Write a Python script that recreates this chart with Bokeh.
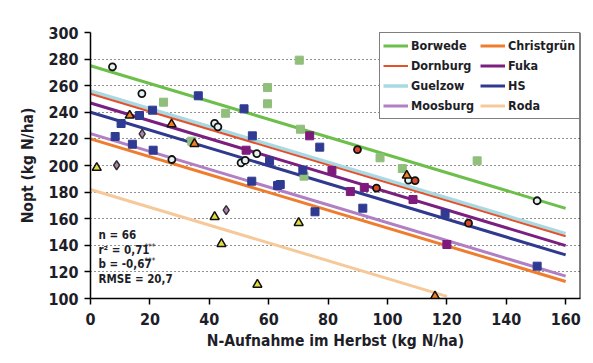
from bokeh.plotting import figure
from bokeh.models import Range1d, FixedTicker, Legend, LegendItem, Label, Span
from bokeh.embed import file_html
from bokeh.resources import INLINE

# ---------------- data ----------------
x_ticks = [0, 20, 40, 60, 80, 100, 120, 140, 160]
y_ticks = [100, 120, 140, 160, 180, 200, 220, 240, 260, 280, 300]

sites = ["Borwede", "Christgrün", "Dornburg", "Fuka", "Guelzow", "HS", "Moosburg", "Roda"]
slope = -0.67
intercepts = [275, 220, 254, 247, 256, 240, 224, 182]
line_x_start = [0, 0, 0, 0, 0, 0, 0, 0]
line_x_end = [160, 160, 160, 160, 160, 160, 160, 120]

borwede_x = [24.6, 34.1, 70.3, 59.6, 59.6, 45.5, 70.7, 71.9, 97.5, 105.0, 130.2]
borwede_y = [247.6, 218.3, 279.2, 258.6, 246.4, 239.3, 227.3, 192.0, 205.8, 197.7, 203.5]

christgruen_x = [13.2, 27.3, 35.0, 106.5, 116.0]
christgruen_y = [237.6, 231.0, 216.3, 192.5, 101.7]

dornburg_x = [89.9, 96.3, 109.3, 127.3]
dornburg_y = [212.0, 183.0, 188.7, 156.6]

fuka_x = [73.8, 52.4, 81.3, 87.5, 92.2, 108.6, 120.0]
fuka_y = [222.3, 211.5, 196.2, 180.4, 183.5, 174.4, 140.6]

guelzow_x = [7.4, 17.3, 41.8, 42.9, 27.4, 56.0, 50.7, 52.1, 107.1, 150.4]
guelzow_y = [274.2, 254.1, 231.6, 229.1, 204.5, 209.0, 202.0, 203.8, 189.0, 173.5]

hs_x = [36.3, 20.9, 16.5, 10.3, 8.3, 14.1, 21.1, 51.7, 54.5, 77.2, 60.3, 54.3, 63.0,
        63.9, 71.5, 75.6, 91.7, 119.4, 150.4]
hs_y = [252.4, 241.6, 237.6, 231.6, 221.8, 216.0, 211.5, 242.6, 222.3, 213.8, 203.2, 188.2,
        185.0, 185.7, 196.5, 165.2, 167.9, 163.7, 124.3]

moosburg_x = [17.4, 8.8, 45.7]
moosburg_y = [223.8, 200.2, 166.4]

roda_x = [2.1, 41.8, 70.1, 44.1, 56.2]
roda_y = [198.3, 161.4, 156.9, 141.1, 110.5]

stats_lines = ["n = 66", "r² = 0,71", "b = -0,67", "RMSE = 20,7"]
stats_stars = ["", "***", "***", ""]
stats_y = [147.4, 136.1, 125.6, 114.3]

# ---------------- styling ----------------
FONT = "DejaVu Sans Condensed"
TXT = "#1e1e28"
line_colors = ["#6cbf4a", "#ee7d2e", "#e2502c", "#7a1f80", "#a9d9e2", "#2f3a8f", "#b07fc4", "#f6c99b"]
line_widths = [3, 3, 2, 3, 3.5, 3, 3, 3]

p = figure(frame_width=490, frame_height=266,
           x_range=Range1d(0, 165), y_range=Range1d(100, 300),
           output_backend="svg", toolbar_location=None,
           min_border_left=90, min_border_top=32, min_border_right=3, min_border_bottom=50)
p.outline_line_color = None
p.background_fill_color = "white"

for ax in (p.xaxis[0], p.yaxis[0]):
    ax.axis_line_color = "black"
    ax.axis_line_width = 1.5
    ax.major_tick_line_color = "black"
    ax.major_tick_line_width = 1.5
    ax.major_tick_out = 6
    ax.major_tick_in = 0
    ax.minor_tick_line_color = None
    ax.major_label_text_font = FONT
    ax.major_label_text_font_style = "bold"
    ax.major_label_text_font_size = "16px"
    ax.major_label_text_color = TXT
    ax.axis_label_text_font = FONT
    ax.axis_label_text_font_style = "bold"
    ax.axis_label_text_font_size = "15.5px"
    ax.axis_label_text_color = TXT

p.xaxis.ticker = FixedTicker(ticks=x_ticks)
p.yaxis.ticker = FixedTicker(ticks=y_ticks)
p.xaxis.axis_label = "N-Aufnahme im Herbst (kg N/ha)"
p.yaxis.axis_label = "Nopt (kg N/ha)"
p.xaxis.major_label_standoff = 8
p.yaxis.major_label_standoff = 6
p.xaxis.axis_label_standoff = 4
p.yaxis.axis_label_standoff = 8

# right frame border
p.add_layout(Span(location=165, dimension="height", line_color="black", line_width=2))

p.xgrid.grid_line_color = None
p.ygrid.ticker = FixedTicker(ticks=y_ticks[1:])
p.ygrid.grid_line_color = "#222222"
p.ygrid.grid_line_dash = "1 3"
p.ygrid.grid_line_width = 1

# regression lines (Guelzow under Dornburg)
draw_order = [4, 0, 1, 2, 3, 5, 6, 7]
line_renderers = {}
for i in draw_order:
    xs = [line_x_start[i], line_x_end[i]]
    ys = [intercepts[i] + slope * x for x in xs]
    r = p.line(xs, ys, line_color=line_colors[i], line_width=line_widths[i])
    line_renderers[i] = r

# points
p.scatter(borwede_x, borwede_y, marker="square", size=8, fill_color="#8fbf7a", line_color="#8fbf7a")
p.scatter(hs_x, hs_y, marker="square", size=8, fill_color="#2f3a92", line_color="#2f3a92")
p.scatter(fuka_x, fuka_y, marker="square", size=8, fill_color="#7d1a7c", line_color="#7d1a7c")
p.scatter(guelzow_x, guelzow_y, marker="circle", size=7, fill_color="#e6f2f2", line_color="#111111", line_width=1.8)
p.scatter(dornburg_x, dornburg_y, marker="circle", size=7, fill_color="#d9482b", line_color="#111111", line_width=1.8)
p.scatter(christgruen_x, christgruen_y, marker="triangle", size=9, fill_color="#f08020", line_color="#111111", line_width=1.5)
p.scatter(roda_x, roda_y, marker="triangle", size=9, fill_color="#e4de3c", line_color="#111111", line_width=1.5)
p.scatter(moosburg_x, moosburg_y, marker="diamond", size=9, fill_color="#b083b0", line_color="#333333", line_width=1.5)

# legend (column-major fill: left column first)
legend_order = [0, 2, 4, 6, 1, 3, 5, 7]
items = [LegendItem(label=sites[i], renderers=[line_renderers[i]]) for i in legend_order]
legend = Legend(items=items, location="top_right", ncols=2, margin=0, padding=3, spacing=1,
                glyph_width=25, glyph_height=19, label_height=19, label_standoff=3, label_width=68,
                label_text_font=FONT, label_text_font_style="bold", label_text_font_size="12.5px",
                label_text_color=TXT, border_line_color="black", border_line_width=1.5,
                background_fill_color="white", background_fill_alpha=1)
p.add_layout(legend)

# statistics text
for t, s, yy in zip(stats_lines, stats_stars, stats_y):
    p.add_layout(Label(x=2.7, y=yy, text=t, text_font=FONT, text_font_style="bold",
                       text_font_size="11.5px", text_color=TXT, text_baseline="middle"))
    if s:
        p.add_layout(Label(x=2.7, y=yy, x_offset=46, y_offset=3, text=s, text_font=FONT,
                           text_font_size="8px", text_color=TXT, text_baseline="middle"))

open("out.html", "w").write(file_html(p, INLINE))
